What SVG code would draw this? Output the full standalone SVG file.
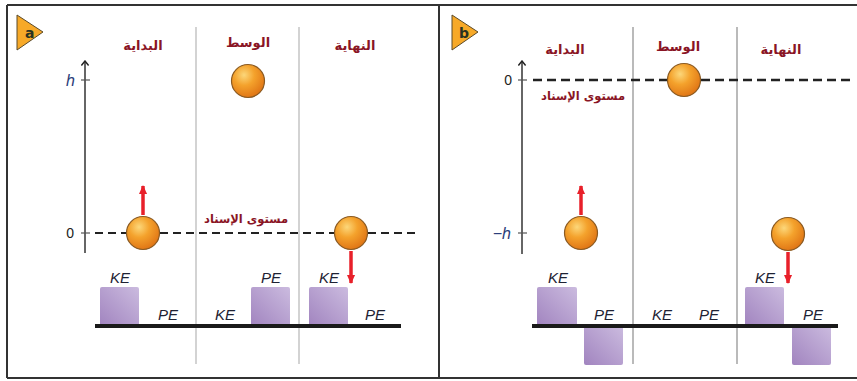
<svg xmlns="http://www.w3.org/2000/svg" width="857" height="381" viewBox="0 0 857 381">
<defs>
<radialGradient id="ball" cx="0.38" cy="0.32" r="0.7">
<stop offset="0" stop-color="#fcd77a"/>
<stop offset="0.45" stop-color="#f4a22c"/>
<stop offset="1" stop-color="#e07515"/>
</radialGradient>
<linearGradient id="bar" x1="0" y1="1" x2="1" y2="0">
<stop offset="0" stop-color="#a184bf"/>
<stop offset="1" stop-color="#cbbbdf"/>
</linearGradient>
<marker id="redhead" viewBox="0 0 10 10" refX="9" refY="5" markerWidth="10" markerHeight="9" markerUnits="userSpaceOnUse" orient="auto">
<path d="M0,0.5 L10,5 L0,9.5 Z" fill="#e8202a"/>
</marker>
<marker id="axhead" viewBox="0 0 10 10" refX="5" refY="1" markerWidth="9" markerHeight="9" markerUnits="userSpaceOnUse">
<path d="M1,6 L5,1 L9,6" fill="none" stroke="#222" stroke-width="1.6"/>
</marker>
</defs>
<style>
.frame{fill:none;stroke:#333;stroke-width:2}
.badge{fill:#f7a928;stroke:#5a4a2a;stroke-width:1}
.badgetxt{font-family:"DejaVu Sans",sans-serif;font-weight:bold;font-size:14px;fill:#2b3320}
.diva{stroke:#c4c4c4;stroke-width:1.5}
.divb{stroke:#8c8c8c;stroke-width:1.2}
.title{font-family:"DejaVu Sans",sans-serif;font-weight:bold;font-size:13px;fill:#8a1525;text-anchor:middle}
.ref{font-family:"DejaVu Sans",sans-serif;font-weight:bold;font-size:11.5px;fill:#8a1525;text-anchor:middle}
.axis{stroke:#333;stroke-width:1.5;fill:none}
.tick{stroke:#555;stroke-width:1.2}
.num{font-family:"Liberation Sans",sans-serif;font-size:14px;fill:#222;text-anchor:end}
.hl{font-family:"Liberation Sans",sans-serif;font-style:italic;font-size:16px;fill:#2c3e7a;text-anchor:end}
.dash{stroke:#222;stroke-width:2.2;stroke-dasharray:8 5}
.dashb{stroke:#222;stroke-width:2.6;stroke-dasharray:9 5}
.ballc{fill:url(#ball);stroke:#8a5a22;stroke-width:1.2}
.barr{fill:url(#bar)}
.base{stroke:#1a1a1a;stroke-width:4}
.lbl{font-family:"Liberation Sans",sans-serif;font-style:italic;font-size:15px;fill:#1e2233;text-anchor:middle}
.red{stroke:#e8202a;stroke-width:3.5;fill:none}
</style>
<rect x="0" y="0" width="857" height="381" fill="#ffffff"/>
<path class="frame" d="M7,5 H857 M7,5 V378 M439,5 V378 M7,378 H857"/>

<g id="panel-a">
<g id="badge-a">
<path class="badge" d="M17,15 L43,32 L17,50 Z"/>
<text class="badgetxt" x="25" y="38">a</text>
</g>
<line class="diva" x1="196" y1="27" x2="196" y2="364"/>
<line class="diva" x1="299" y1="27" x2="299" y2="364"/>
<text class="title" x="143" y="50">البداية</text>
<text class="title" x="248" y="47">الوسط</text>
<text class="title" x="355" y="50">النهاية</text>
<g id="axis-a">
<line class="axis" x1="85" y1="253" x2="85" y2="61" marker-end="url(#axhead)"/>
<line class="tick" x1="81" y1="80" x2="90" y2="80"/>
<line class="tick" x1="81" y1="233" x2="90" y2="233"/>
<text class="hl" x="75" y="86">h</text>
<text class="num" x="74" y="238">0</text>
</g>
<line class="dash" x1="95" y1="233" x2="420" y2="233"/>
<text class="ref" x="246" y="223">مستوى الإسناد</text>
<circle id="ball-a-start" class="ballc" cx="143" cy="233" r="16.5"/>
<circle id="ball-a-mid" class="ballc" cx="248" cy="81" r="16.5"/>
<circle id="ball-a-end" class="ballc" cx="351" cy="233" r="16.5"/>
<g id="bars-a">
<rect class="barr" x="100" y="287" width="39" height="39" rx="2"/>
<rect class="barr" x="251" y="287" width="39" height="39" rx="2"/>
<rect class="barr" x="309" y="287" width="39" height="39" rx="2"/>
<line class="base" x1="95" y1="326" x2="401" y2="326"/>
<text class="lbl" x="120" y="283">KE</text>
<text class="lbl" x="168" y="320">PE</text>
<text class="lbl" x="225" y="320">KE</text>
<text class="lbl" x="271" y="283">PE</text>
<text class="lbl" x="329" y="283">KE</text>
<text class="lbl" x="375" y="320">PE</text>
</g>
</g>

<g id="panel-b">
<g id="badge-b">
<path class="badge" d="M452,15 L478,32 L452,50 Z"/>
<text class="badgetxt" x="459" y="38">b</text>
</g>
<line class="divb" x1="633" y1="27" x2="633" y2="364"/>
<line class="divb" x1="737" y1="27" x2="737" y2="364"/>
<text class="title" x="565" y="54">البداية</text>
<text class="title" x="678" y="51">الوسط</text>
<text class="title" x="781" y="54">النهاية</text>
<g id="axis-b">
<line class="axis" x1="522" y1="254" x2="522" y2="61" marker-end="url(#axhead)"/>
<line class="tick" x1="518" y1="80" x2="527" y2="80"/>
<line class="tick" x1="518" y1="233" x2="527" y2="233"/>
<text class="num" x="512" y="85">0</text>
<text class="hl" x="511" y="239">−h</text>
</g>
<line class="dashb" x1="533" y1="80" x2="850" y2="80"/>
<text class="ref" x="583" y="100">مستوى الإسناد</text>
<circle id="ball-b-start" class="ballc" cx="581" cy="233" r="16.5"/>
<circle id="ball-b-mid" class="ballc" cx="684" cy="80" r="16.5"/>
<circle id="ball-b-end" class="ballc" cx="788" cy="234" r="16.5"/>
<g id="bars-b">
<rect class="barr" x="537" y="287" width="40" height="39" rx="2"/>
<rect class="barr" x="584" y="326" width="39" height="39" rx="2"/>
<rect class="barr" x="745" y="287" width="39" height="39" rx="2"/>
<rect class="barr" x="792" y="326" width="39" height="39" rx="2"/>
<line class="base" x1="532" y1="326" x2="838" y2="326"/>
<text class="lbl" x="558" y="283">KE</text>
<text class="lbl" x="604" y="320">PE</text>
<text class="lbl" x="662" y="320">KE</text>
<text class="lbl" x="709" y="320">PE</text>
<text class="lbl" x="765" y="283">KE</text>
<text class="lbl" x="813" y="320">PE</text>
</g>
</g>

<g id="connectors">
<line class="red" x1="143" y1="215" x2="143" y2="186" marker-end="url(#redhead)"/>
<line class="red" x1="351" y1="251" x2="351" y2="283" marker-end="url(#redhead)"/>
<line class="red" x1="581" y1="215" x2="581" y2="186" marker-end="url(#redhead)"/>
<line class="red" x1="788" y1="252" x2="788" y2="283" marker-end="url(#redhead)"/>
</g>
</svg>
